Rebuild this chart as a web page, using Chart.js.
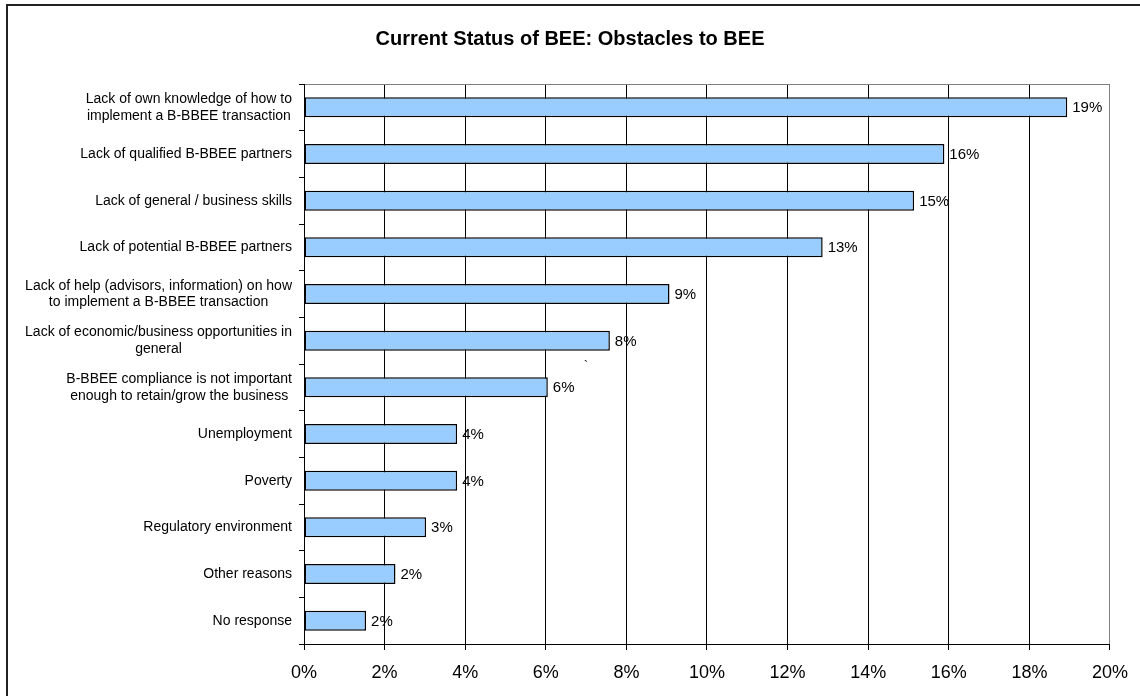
<!DOCTYPE html>
<html>
<head>
<meta charset="utf-8">
<script src="https://cdn.jsdelivr.net/npm/chart.js@4.4.1/dist/chart.umd.min.js"></script>
<style>
  html, body { margin: 0; padding: 0; background: #ffffff; }
  #wrap { width: 1140px; height: 696px; position: relative; }
</style>
</head>
<body>
<div id="wrap"><canvas id="beeChart"></canvas></div>
<script>
// Datos del gráfico
const chartTitle = 'Current Status of BEE: Obstacles to BEE';

const categories = [
    ['Lack of own knowledge of how to', 'implement a B-BBEE transaction'],
    ['Lack of qualified B-BBEE partners'],
    ['Lack of general / business skills'],
    ['Lack of potential B-BBEE partners'],
    ['Lack of help (advisors, information) on how', 'to implement a B-BBEE transaction'],
    ['Lack of economic/business opportunities in', 'general'],
    ['B-BBEE compliance is not important', 'enough to retain/grow the business'],
    ['Unemployment'],
    ['Poverty'],
    ['Regulatory environment'],
    ['Other reasons'],
    ['No response']
];

const obstacleValues = [18.94, 15.89, 15.14, 12.87, 9.07, 7.59, 6.05, 3.80, 3.80, 3.03, 2.27, 1.54];

const xTickValues = [0, 2, 4, 6, 8, 10, 12, 14, 16, 18, 20];

const FONT = "Arial, 'Liberation Sans', sans-serif";

/**
 * Plugin: marco, título, etiquetas de categorías y valores
 */
const drawExtras = {
    id: 'drawExtras',
    afterDraw: (chart) => {
        const { ctx, chartArea, scales } = chart;
        const yScale = scales.y;
        const xScale = scales.x;
        ctx.save();

        // marco exterior (solo izquierda y arriba visibles)
        ctx.strokeStyle = '#222222';
        ctx.lineWidth = 2;
        ctx.strokeRect(7, 5, 1200, 800);

        // título
        ctx.fillStyle = '#000000';
        ctx.font = 'bold 20px ' + FONT;
        ctx.textAlign = 'center';
        ctx.textBaseline = 'alphabetic';
        ctx.fillText(chartTitle, chart.width / 2, 45);

        // etiquetas de categorías (líneas centradas, bloque alineado a la derecha)
        ctx.textBaseline = 'middle';
        ctx.font = '14px ' + FONT;
        const rightEdge = chartArea.left - 12;
        const lineH = 16.7;
        categories.forEach((lines, i) => {
            const yc = yScale.getPixelForValue(i);
            const blockW = Math.max(...lines.map(l => ctx.measureText(l).width));
            const cx = rightEdge - blockW / 2;
            const y0 = yc - (lines.length - 1) * lineH / 2;
            lines.forEach((l, k) => ctx.fillText(l, cx, y0 + k * lineH));
        });

        // etiquetas de valores
        ctx.font = '15px ' + FONT;
        ctx.textAlign = 'left';
        const meta = chart.getDatasetMeta(0);
        meta.data.forEach((bar, i) => {
            ctx.fillText(Math.round(obstacleValues[i]) + '%', bar.x + 5, bar.y + 1);
        });

        // marca suelta que aparece en el original
        ctx.font = '12px ' + FONT;
        ctx.fillText('`', xScale.getPixelForValue(6.95), yScale.getPixelForValue(5.55));

        ctx.restore();
    }
};

new Chart(document.getElementById('beeChart'), {
    type: 'bar',
    data: {
        labels: categories.map(c => c.join(' ')),
        datasets: [{
            data: obstacleValues,
            backgroundColor: '#99CCFF',
            borderColor: '#000000',
            borderWidth: 1.5,
            borderSkipped: false,
            barPercentage: 0.43,
            categoryPercentage: 1.0
        }]
    },
    options: {
        indexAxis: 'y',
        responsive: true,
        maintainAspectRatio: false,
        animation: false,
        layout: { padding: { top: 84, right: 28, left: 0, bottom: 0 } },
        plugins: {
            legend: { display: false },
            title: { display: false },
            tooltip: { enabled: false }
        },
        scales: {
            x: {
                min: 0,
                max: 20,
                afterBuildTicks: (scale) => {
                    scale.ticks = xTickValues.map(v => ({ value: v }));
                },
                afterFit: (scale) => { scale.height = 52; },
                grid: {
                    drawTicks: true,
                    tickLength: 6,
                    tickColor: '#000000',
                    color: (c) => (c.tick && c.tick.value === 20) ? '#808080' : '#000000',
                    lineWidth: 1
                },
                border: { display: true, color: '#000000', width: 1 },
                ticks: {
                    color: '#000000',
                    padding: 12,
                    font: { family: FONT, size: 18 },
                    callback: (v) => v + '%'
                }
            },
            y: {
                afterFit: (scale) => { scale.width = 304; },
                grid: {
                    offset: true,
                    drawTicks: true,
                    tickLength: 5,
                    tickColor: '#000000',
                    color: (c) => (c.index === 0) ? '#808080' : 'rgba(0,0,0,0)'
                },
                border: { display: true, color: '#000000', width: 1 },
                ticks: { display: false }
            }
        }
    },
    plugins: [drawExtras]
});
</script>
</body>
</html>
